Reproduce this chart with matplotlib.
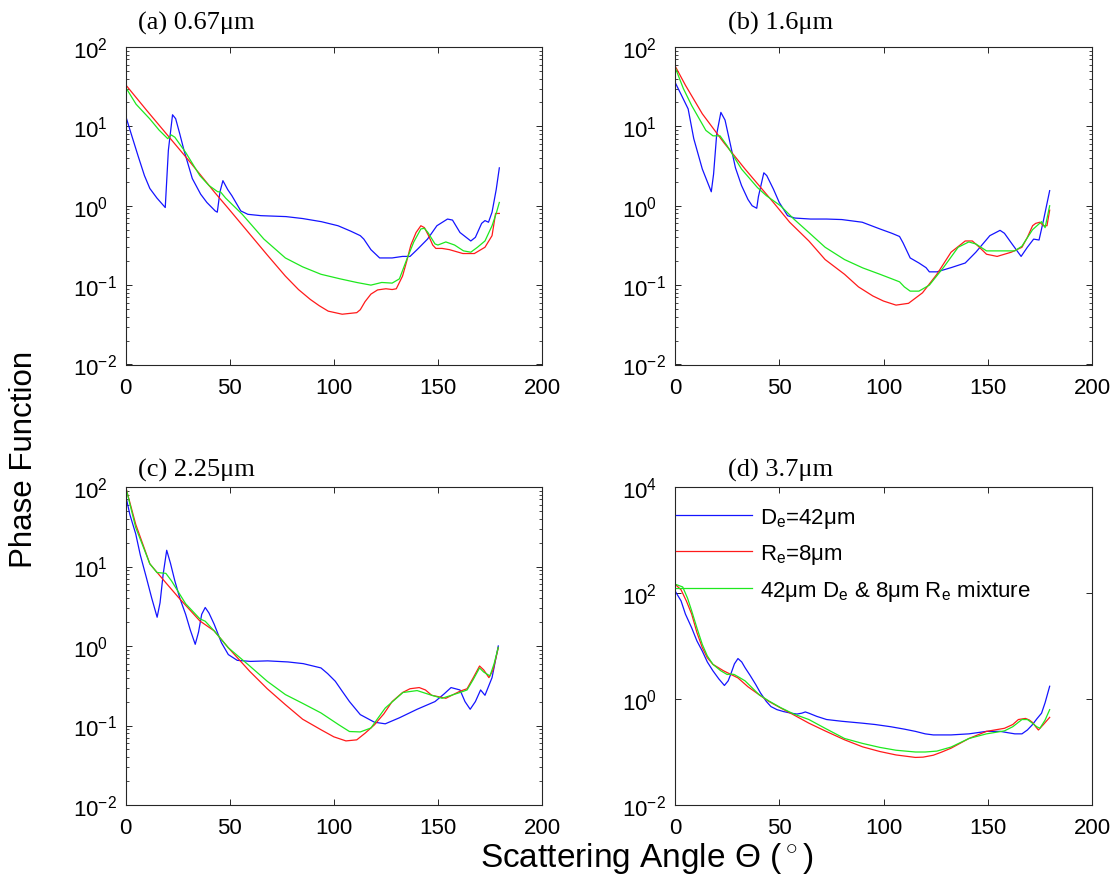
import matplotlib
matplotlib.use("Agg")
import matplotlib.pyplot as plt
from matplotlib.ticker import LogLocator, NullFormatter, NullLocator

plt.rcParams['font.family'] = 'Liberation Sans'
plt.rcParams['mathtext.fontset'] = 'custom'
plt.rcParams['mathtext.rm'] = 'Liberation Sans'
plt.rcParams['mathtext.it'] = 'Liberation Sans:italic'
plt.rcParams['mathtext.bf'] = 'Liberation Sans:bold'

# ---- data (angle in degrees, phase function) ----
# (a) 0.67 um
ang_a_de = [0, 3, 6, 9, 11.6, 15, 19, 20.5, 22.5, 24, 26, 28, 32, 36, 39, 43, 44, 45.3, 46.7, 49,
            51, 55.3, 58.7, 65, 77, 85, 94, 102, 108, 112.7, 114.4, 117.8, 122, 128, 133, 136.6,
            140, 145, 149.5, 154.6, 157, 160.6, 165.8, 168, 171, 172.6, 174.3, 176, 178, 179.5]
pf_a_de = [13.5, 7.5, 4.2, 2.4, 1.65, 1.25, 0.95, 5.0, 14, 12.5, 8, 5, 2.2, 1.4, 1.1, 0.86, 0.83, 1.5, 2.07, 1.6,
           1.34, 0.86, 0.78, 0.75, 0.73, 0.69, 0.63, 0.56, 0.48, 0.42, 0.38, 0.28, 0.22, 0.22, 0.23, 0.23,
           0.28, 0.38, 0.56, 0.68, 0.66, 0.46, 0.36, 0.4, 0.6, 0.65, 0.62, 0.83, 1.6, 3.0]
ang_a_re = [0, 10, 21.9, 30, 42.5, 50, 59.6, 68, 76.7, 83, 88.7, 93, 97.3, 104, 111, 112.7, 115, 117.8, 121, 125,
            128, 130, 133, 135, 137, 139.5, 141.8, 143.5, 145.5, 147.5, 149, 152, 155.5, 162, 167.5, 172.6,
            176, 177.7, 179.5]
pf_a_re = [33.4, 16, 6.8, 3.8, 1.5, 0.88, 0.44, 0.24, 0.13, 0.088, 0.066, 0.055, 0.047, 0.043, 0.045, 0.049, 0.062,
           0.077, 0.087, 0.09, 0.088, 0.09, 0.13, 0.2, 0.32, 0.46, 0.56, 0.53, 0.42, 0.32, 0.29, 0.29, 0.28,
           0.25, 0.25, 0.30, 0.42, 0.8, 0.8]
ang_a_mix = [0, 5, 11.6, 16, 20.2, 21.9, 23.6, 28.8, 35.6, 40, 44.2, 45.5, 48, 56, 66.4, 76.7, 85, 93.8, 103, 111,
             117.8, 123, 128, 131.5, 135, 138.4, 141.8, 143.5, 145.2, 148.6, 150, 153.8, 158, 162.3, 165.8,
             169, 172.6, 176, 178, 179.5]
pf_a_mix = [31, 19, 12.4, 9, 7, 7.8, 7.3, 4.7, 2.4, 1.8, 1.5, 1.5, 1.25, 0.78, 0.38, 0.22, 0.17, 0.137, 0.12, 0.108,
            0.10, 0.108, 0.106, 0.12, 0.21, 0.35, 0.51, 0.52, 0.46, 0.33, 0.32, 0.35, 0.32, 0.27, 0.26,
            0.3, 0.36, 0.56, 0.8, 1.1]

# (b) 1.6 um
ang_b_de = [0, 3, 6.3, 9, 13.1, 17.4, 18.5, 20, 22, 24, 26.7, 29, 31.9, 35, 37, 39.2, 40, 42.6, 44, 47.2,
            50, 54, 57.4, 65, 72.7, 80, 89.8, 98.3, 104, 107.7, 109.4, 112.8, 117, 120.4, 122, 125.6, 132.4,
            139.2, 144.3, 151, 155.9, 158, 161.3, 166, 169, 172, 174.6, 176.7, 179.7]
pf_b_de = [36, 25, 16.6, 7, 2.9, 1.5, 2.5, 8, 15, 12, 5.7, 3, 1.8, 1.2, 1.0, 0.93, 1.3, 2.6, 2.4, 1.62,
           1.1, 0.75, 0.70, 0.68, 0.68, 0.67, 0.62, 0.51, 0.45, 0.41, 0.34, 0.22, 0.19, 0.166, 0.147, 0.147, 0.166,
           0.19, 0.26, 0.42, 0.49, 0.45, 0.34, 0.23, 0.3, 0.38, 0.37, 0.65, 1.55]
ang_b_re = [0, 5, 13.1, 23.3, 33.6, 47.2, 55, 64.2, 72, 81.3, 88, 94.9, 100, 106, 112, 118.7, 125.6, 132.4,
            139.2, 142.6, 146, 149.4, 154.5, 161.3, 166.4, 169, 171.5, 173, 175, 176.7, 178.4, 179.7]
pf_b_re = [58, 33, 14.4, 6.3, 2.9, 1.1, 0.62, 0.36, 0.21, 0.137, 0.095, 0.073, 0.063, 0.056, 0.059, 0.08, 0.137, 0.26,
           0.36, 0.36, 0.3, 0.245, 0.23, 0.26, 0.3, 0.4, 0.56, 0.6, 0.62, 0.56, 0.56, 0.88]
ang_b_mix = [0, 4, 8, 14.8, 18.2, 21.6, 25, 31.9, 39.5, 43.8, 50.6, 57, 64.2, 72, 81.3, 90, 98.3, 104, 107.7,
             110, 112.8, 117, 122, 129, 135.8, 140.9, 144.3, 149.4, 158, 163, 166.4, 171.5, 175.8, 177.5, 179.7]
pf_b_mix = [56, 30, 18.3, 8.9, 7.6, 7.6, 5.7, 2.9, 1.7, 1.34, 1.0, 0.68, 0.46, 0.3, 0.21, 0.165, 0.137, 0.12, 0.11,
            0.095, 0.084, 0.084, 0.1, 0.17, 0.3, 0.35, 0.33, 0.27, 0.27, 0.27, 0.31, 0.5, 0.63, 0.53, 1.0]

# (c) 2.25 um
ang_c_de = [0, 2, 4.8, 7, 9.9, 12.5, 15.1, 16.5, 18, 19.7, 21.5, 23.6, 26, 28.8, 31, 33.4, 35, 36.5, 38.2, 40,
            42.5, 46, 49.3, 53.6, 60, 68.2, 78, 85.3, 93.8, 97, 100.7, 104, 107.5, 112.7, 119.5, 124.7, 131.5,
            140, 148.6, 153, 156.3, 160.6, 163, 165.5, 168, 170.5, 172.6, 176, 179]
pf_c_de = [78, 45, 25.8, 14, 7.3, 4, 2.3, 3.5, 8, 16, 11, 6.6, 4, 2.5, 1.6, 1.05, 1.5, 2.5, 3.05, 2.6,
           1.88, 1.1, 0.78, 0.66, 0.64, 0.65, 0.63, 0.6, 0.53, 0.45, 0.36, 0.27, 0.2, 0.137, 0.11, 0.105, 0.125,
           0.16, 0.2, 0.25, 0.3, 0.28, 0.2, 0.16, 0.2, 0.28, 0.24, 0.4, 1.0]
ang_c_re = [0, 4.8, 11.6, 18.5, 25.3, 35.6, 42.5, 49.3, 59.6, 68, 76.7, 85, 93.8, 100, 105.8, 111, 115, 119.5,
            124, 128, 133, 136.6, 141, 144, 147, 153.8, 160.6, 164, 167, 170, 172, 174.5, 176.5, 179]
pf_c_re = [100, 34, 10.8, 6.6, 4.1, 2.07, 1.55, 0.95, 0.48, 0.29, 0.183, 0.12, 0.0885, 0.072, 0.064, 0.066, 0.08, 0.102,
           0.14, 0.2, 0.26, 0.29, 0.3, 0.28, 0.24, 0.22, 0.27, 0.29, 0.4, 0.56, 0.5, 0.4, 0.5, 0.95]
ang_c_mix = [0, 4.8, 11.6, 15, 19.3, 22, 28.8, 35.6, 38.2, 42.5, 49.3, 59.6, 68, 76.7, 85, 93.8, 102.4, 107.5,
             112.7, 117.8, 124.7, 133.2, 140, 147, 152, 160.6, 164, 167, 170, 172, 175, 177, 179]
pf_c_mix = [100, 31, 10.8, 8.4, 8.2, 6.6, 3.4, 2.2, 2.05, 1.55, 0.95, 0.56, 0.36, 0.245, 0.19, 0.144, 0.102, 0.084,
            0.083, 0.093, 0.166, 0.26, 0.275, 0.24, 0.22, 0.26, 0.28, 0.38, 0.53, 0.47, 0.42, 0.6, 0.96]

# (d) 3.7 um
ang_d_de = [0, 2.9, 5, 8, 10.5, 13.1, 15.5, 18.2, 21, 23.7, 25.5, 26.7, 28.5, 30.2, 32, 33.6, 36, 38.7, 41, 43.8,
            46, 48.9, 52, 55.7, 58.5, 60.8, 62.5, 64.2, 68, 72.7, 80, 89.8, 96, 103.4, 110, 115.3, 120, 123.9,
            132.4, 141, 149.4, 156, 160, 163, 166.4, 169, 171.5, 173.5, 175.8, 177.5, 179.7]
pf_d_de = [110, 71, 40, 22, 12.5, 8, 5, 3.4, 2.4, 1.8, 2.2, 2.9, 4.6, 5.8, 5, 3.9, 2.8, 1.88, 1.3, 0.9,
           0.72, 0.63, 0.58, 0.54, 0.52, 0.54, 0.57, 0.54, 0.47, 0.41, 0.38, 0.35, 0.33, 0.30, 0.27, 0.245, 0.22, 0.21,
           0.21, 0.22, 0.245, 0.245, 0.23, 0.22, 0.22, 0.26, 0.33, 0.42, 0.54, 0.85, 1.74]
ang_d_re = [0, 2.9, 5.5, 8, 10.5, 13.1, 15.5, 18.2, 23.3, 30.2, 35, 40.4, 45, 50.6, 57, 64.2, 72, 81.3, 90, 98.3,
            106, 115.3, 119, 123.9, 128, 132.4, 141, 149.4, 158, 162, 164.7, 168.1, 170, 171.5, 173, 174.3,
            176.7, 179.7]
pf_d_re = [147, 115, 70, 40, 18, 9.3, 6, 4.5, 3.4, 2.5, 1.7, 1.2, 0.9, 0.68, 0.5, 0.35, 0.25, 0.17, 0.125, 0.102,
           0.088, 0.079, 0.08, 0.087, 0.1, 0.118, 0.18, 0.245, 0.28, 0.33, 0.41, 0.43, 0.4, 0.36, 0.3, 0.26,
           0.33, 0.45]
ang_d_mix = [0, 3.7, 6, 8, 10.5, 13.1, 15.5, 18.2, 22, 25, 27, 28.4, 30.5, 33.6, 40.4, 45, 50.6, 57, 64.2, 72,
             81.3, 90, 98.3, 106, 115.3, 120, 125.6, 132.4, 141, 149.4, 158, 162, 166.4, 169, 171, 173.5, 175,
             177.5, 179.7]
pf_d_mix = [147, 130, 80, 46, 22, 10.7, 6.5, 4.5, 3.4, 2.9, 2.95, 2.9, 2.6, 2.2, 1.2, 0.92, 0.69, 0.52, 0.41, 0.28,
            0.18, 0.145, 0.122, 0.108, 0.1, 0.1, 0.104, 0.124, 0.18, 0.22, 0.25, 0.3, 0.41, 0.41, 0.36, 0.3, 0.28,
            0.4, 0.63]

panel_titles = ['(a) 0.67μm', '(b) 1.6μm', '(c) 2.25μm', '(d) 3.7μm']
legend_labels = ['D$_\\mathrm{e}$=42μm', 'R$_\\mathrm{e}$=8μm',
                 '42μm D$_\\mathrm{e}$ & 8μm R$_\\mathrm{e}$ mixture']

C_DE, C_RE, C_MIX = '#1414ff', '#ff1a1a', '#1ee81e'
W, H = 1116, 878

fig = plt.figure(figsize=(W / 100, H / 100), dpi=100)

# axes boxes in pixels: left, top, right, bottom
boxes = [(125.7, 48, 542, 365.5), (675, 48, 1092, 365.5),
         (125.7, 488, 542, 806), (675, 488, 1092, 806)]
title_pos = [(138, 23), (728, 23.5), (138, 470), (728, 470)]
series = [
    (ang_a_de, pf_a_de, ang_a_re, pf_a_re, ang_a_mix, pf_a_mix),
    (ang_b_de, pf_b_de, ang_b_re, pf_b_re, ang_b_mix, pf_b_mix),
    (ang_c_de, pf_c_de, ang_c_re, pf_c_re, ang_c_mix, pf_c_mix),
    (ang_d_de, pf_d_de, ang_d_re, pf_d_re, ang_d_mix, pf_d_mix),
]

for k, (box, data) in enumerate(zip(boxes, series)):
    l, t, r, b = box
    ax = fig.add_axes([l / W, 1 - b / H, (r - l) / W, (b - t) / H])
    x1, y1, x2, y2, x3, y3 = data
    h1, = ax.plot(x1, y1, color=C_DE, lw=0.9)
    h2, = ax.plot(x2, y2, color=C_RE, lw=0.9)
    h3, = ax.plot(x3, y3, color=C_MIX, lw=0.9)
    ax.set_yscale('log')
    ax.set_xlim(0, 200)
    ax.set_xticks([0, 50, 100, 150, 200])
    if k < 3:
        ax.set_ylim(1e-2, 1e2)
        ax.set_yticks([1e-2, 1e-1, 1, 1e1, 1e2])
        ax.yaxis.set_minor_locator(LogLocator(base=10, subs=range(2, 10), numticks=20))
        ax.yaxis.set_minor_formatter(NullFormatter())
    else:
        ax.set_ylim(1e-2, 1e4)
        ax.set_yticks([1e-2, 1, 1e2, 1e4])
        ax.yaxis.set_minor_locator(NullLocator())
    for s in ax.spines.values():
        s.set_color('#262626')
        s.set_linewidth(0.8)
    ax.tick_params(which='both', direction='in', top=True, right=True,
                   colors='#262626', labelcolor='black', labelsize=16)
    ax.tick_params(which='major', length=4, width=0.7)
    ax.tick_params(which='minor', length=2.2, width=0.6)
    ax.tick_params(axis='x', pad=9)
    ax.tick_params(axis='y', pad=38)
    # MATLAB style: the "10" parts line up on the left
    for lab in ax.get_yticklabels():
        lab.set_horizontalalignment('left')
    tx, ty = title_pos[k]
    fig.text(tx / W, 1 - ty / H, panel_titles[k], family='Liberation Serif',
             fontsize=19, ha='left', va='center')
    if k == 3:
        ax.legend([h1, h2, h3], legend_labels, loc='upper left',
                  bbox_to_anchor=(0.003, 0.94), frameon=False, fontsize=16,
                  borderpad=0, borderaxespad=0, handlelength=3.4,
                  handletextpad=0.35, labelspacing=0.53)

fig.text(24 / W, 1 - 459 / H, 'Phase Function', rotation=90,
         ha='center', va='center', fontsize=22.5)
fig.text(647 / W, 1 - 859 / H, 'Scattering Angle Θ ($\\,^{\\circ}\\,$)',
         ha='center', va='center', fontsize=24)

fig.savefig('out.png', dpi=100)
